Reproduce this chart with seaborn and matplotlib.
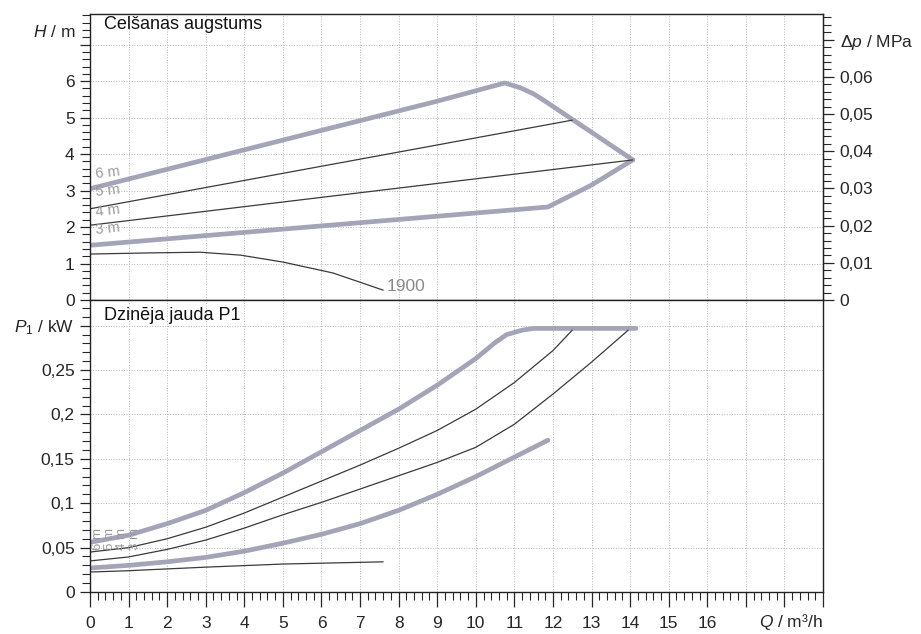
import numpy as np
import pandas as pd
import seaborn as sns
import matplotlib.pyplot as plt
from matplotlib.ticker import MultipleLocator, FixedLocator, FuncFormatter

# Head curves (Q in m3/h, H in m)
q_h6 = [0, 3, 6, 9, 10.75, 11.15, 11.5, 11.84, 14.07]
h_6 = [3.05, 3.85, 4.65, 5.45, 5.95, 5.82, 5.65, 5.42, 3.84]
q_h5 = [0, 12.5]
h_5 = [2.5, 4.93]
q_h4 = [0, 14.07]
h_4 = [2.05, 3.84]
q_h3 = [0, 11.87, 13.0, 14.07]
h_3 = [1.5, 2.55, 3.15, 3.84]
q_h1900 = [0, 1.5, 2.85, 3.9, 5.0, 6.3, 7.6]
h_1900 = [1.26, 1.29, 1.31, 1.23, 1.04, 0.74, 0.27]

# Power curves (P1 in kW)
q_p6 = [0, 1, 2, 3, 4, 5, 6, 7, 8, 9, 10, 10.5, 10.8, 11.2, 11.5, 14.15]
p_6 = [0.056, 0.064, 0.077, 0.092, 0.112, 0.134, 0.158, 0.182, 0.206, 0.233, 0.263, 0.281, 0.290, 0.295, 0.297, 0.297]
q_p5 = [0, 1, 2, 3, 4, 5, 6, 7, 8, 9, 10, 11, 12, 12.5]
p_5 = [0.045, 0.050, 0.060, 0.073, 0.089, 0.107, 0.125, 0.143, 0.162, 0.182, 0.206, 0.236, 0.272, 0.295]
q_p4 = [0, 1, 2, 3, 4, 5, 6, 7, 8, 9, 10, 11, 12, 13, 13.95]
p_4 = [0.035, 0.0395, 0.048, 0.0585, 0.072, 0.087, 0.101, 0.116, 0.131, 0.146, 0.163, 0.189, 0.223, 0.259, 0.295]
q_p3 = [0, 1, 2, 3, 4, 5, 6, 7, 8, 9, 10, 11, 11.87]
p_3 = [0.027, 0.030, 0.034, 0.039, 0.046, 0.055, 0.065, 0.077, 0.092, 0.110, 0.130, 0.152, 0.171]
q_p1900 = [0, 1, 3, 5, 7.6]
p_1900 = [0.0225, 0.024, 0.028, 0.0315, 0.034]

x_labels = [str(i) for i in range(17)] + ["", "", ""]
K = 0.00981  # MPa per m

sns.set_style("ticks")
plt.rcParams['font.family'] = ['Liberation Sans', 'DejaVu Sans']
plt.rcParams['mathtext.fontset'] = 'custom'
plt.rcParams['mathtext.rm'] = 'Liberation Sans'
plt.rcParams['mathtext.it'] = 'Liberation Sans:italic'

THICK = dict(color='#a4a4b8', lw=3.4)
THIN = dict(color='#3a3a3a', lw=0.9)
GRID = dict(color='#b5b5b5', lw=0.7, ls=':')
FS = 12.5


def comma(v, pos=None):
    return ('%g' % round(v, 4)).replace('.', ',')


fig = plt.figure(figsize=(9.21, 6.34), dpi=100)
ax1 = fig.add_axes([90 / 921, 1 - 300 / 634, 733 / 921, 286 / 634])
ax2 = fig.add_axes([90 / 921, 1 - 592 / 634, 733 / 921, 292 / 634])

for ax in (ax1, ax2):
    for s in ax.spines.values():
        s.set_color('#222222')
        s.set_linewidth(1.0)
    ax.set_xlim(0, 19)
    ax.xaxis.set_major_locator(MultipleLocator(1))
    ax.xaxis.set_minor_locator(MultipleLocator(0.2))
    ax.grid(True, which='major', **GRID)

# top panel
for q, h, st in [(q_h6, h_6, THICK), (q_h3, h_3, THICK), (q_h5, h_5, THIN),
                 (q_h4, h_4, THIN), (q_h1900, h_1900, THIN)]:
    sns.lineplot(x=q, y=h, ax=ax1, sort=False, estimator=None, **st)
ax1.set_ylim(0, 7.84)
ax1.yaxis.set_major_locator(FixedLocator(range(8)))
ax1.yaxis.set_minor_locator(MultipleLocator(0.2))
ax1.yaxis.set_major_formatter(FuncFormatter(lambda v, p: '' if v > 6.5 else comma(v)))
ax1.tick_params(axis='x', which='both', length=0, labelbottom=False)
ax1.tick_params(axis='y', which='major', direction='out', length=7, width=0.9, labelsize=FS, pad=4)
ax1.tick_params(axis='y', which='minor', direction='out', length=6, width=0.8)
ax1.set_xlabel('')
ax1.set_ylabel('')

sec = ax1.secondary_yaxis('right', functions=(lambda h: h * K, lambda p: p / K))
sec.yaxis.set_major_locator(FixedLocator(np.arange(0, 0.0701, 0.01)))
sec.yaxis.set_minor_locator(MultipleLocator(0.002))
sec.yaxis.set_major_formatter(FuncFormatter(lambda v, p: '$Δp$ / MPa' if v > 0.065 else comma(v)))
sec.tick_params(which='major', direction='out', length=8, width=0.9, labelsize=FS, pad=4)
sec.tick_params(which='minor', direction='out', length=6, width=0.8)
sec.spines['right'].set_color('#222222')

ax1.text(0.35, 7.55, 'Celšanas augstums', fontsize=13, color='#111111', va='center')
ax1.text(7.7, 0.36, '1900', fontsize=12.5, color='#8a8a8a', va='center')
for lab, yy in [('6 m', 3.5), ('5 m', 3.0), ('4 m', 2.45), ('3 m', 1.95)]:
    ax1.text(0.12, yy, lab, fontsize=10.5, color='#9a9a9a', va='center', rotation=6)
fig.text(75 / 921, 1 - 32 / 634, '$H$ / m', fontsize=FS, ha='right', va='center')

# bottom panel
for q, p, st in [(q_p6, p_6, THICK), (q_p3, p_3, THICK), (q_p5, p_5, THIN),
                 (q_p4, p_4, THIN), (q_p1900, p_1900, THIN)]:
    sns.lineplot(x=q, y=p, ax=ax2, sort=False, estimator=None, **st)
ax2.set_ylim(0, 0.329)
ax2.yaxis.set_major_locator(FixedLocator(np.arange(0, 0.301, 0.05)))
ax2.yaxis.set_minor_locator(MultipleLocator(0.01))
ax2.yaxis.set_major_formatter(FuncFormatter(lambda v, p: '$P_1$ / kW' if v > 0.28 else comma(v)))
ax2.set_xticks(range(20))
ax2.set_xticklabels(x_labels)
ax2.tick_params(axis='x', which='major', direction='out', length=11, width=0.9, labelsize=FS, pad=6)
ax2.tick_params(axis='x', which='minor', direction='out', length=6, width=0.8)
ax2.tick_params(axis='y', which='major', direction='out', length=7, width=0.9, labelsize=FS, pad=4)
ax2.tick_params(axis='y', which='minor', direction='out', length=6, width=0.8)
ax2.set_xlabel('')
ax2.set_ylabel('')

ax2.text(0.35, 0.311, 'Dzinēja jauda P1', fontsize=13, color='#111111', va='center')
for lab, xx in [('6 m', 0.2), ('5 m', 0.52), ('4 m', 0.84), ('3 m', 1.16)]:
    ax2.text(xx, 0.06, lab, fontsize=9.5, color='#9a9a9a', va='center', ha='center', rotation=90)
fig.text(823 / 921, 1 - 622 / 634, '$Q$ / m³/h', fontsize=FS, ha='right', va='center')

fig.savefig('out.png', dpi=100)
